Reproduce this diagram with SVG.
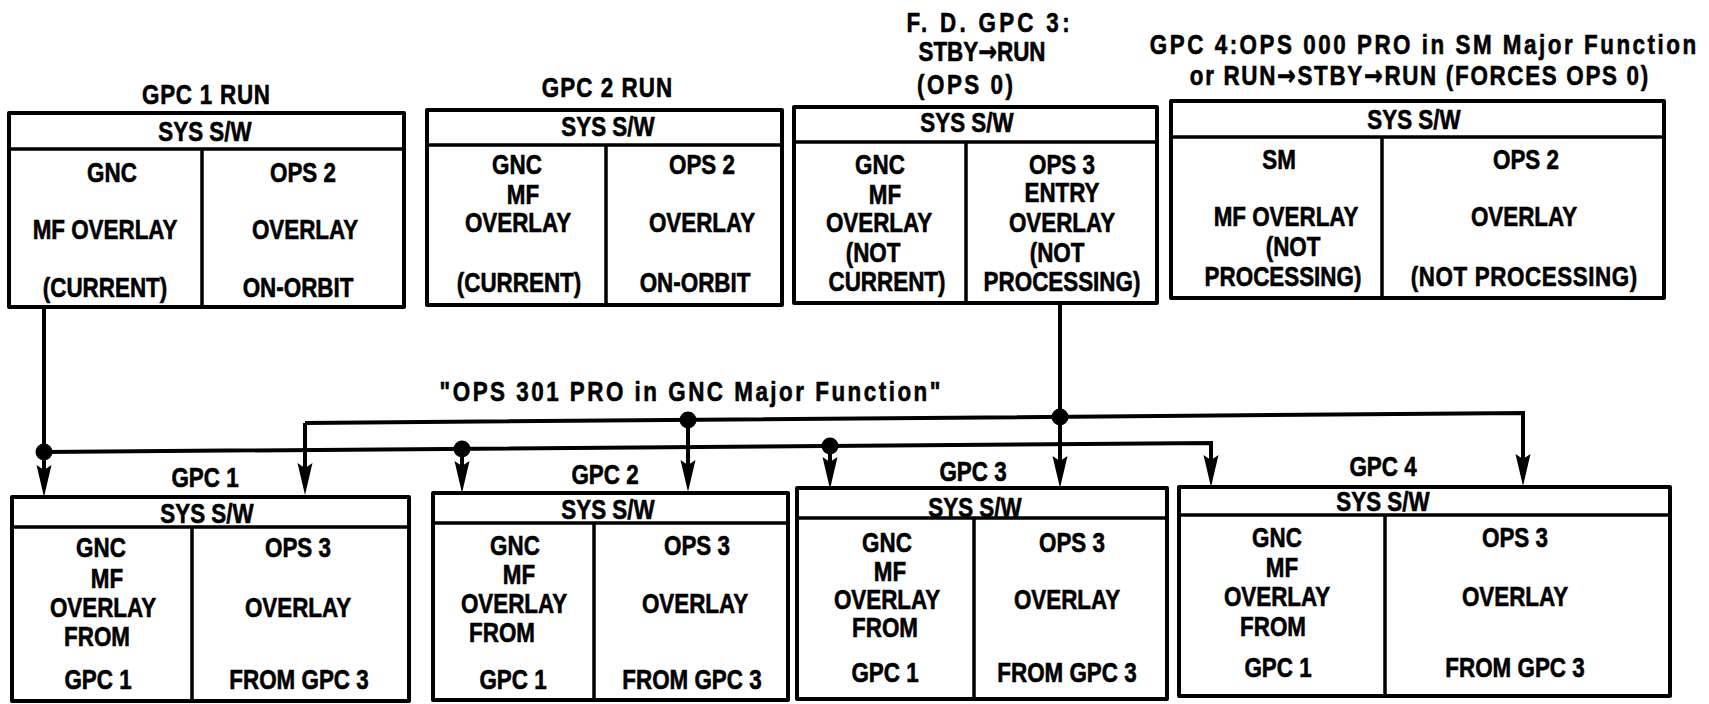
<svg xmlns="http://www.w3.org/2000/svg" width="1709" height="704" viewBox="0 0 1709 704">
<style>
.box{fill:#fff;stroke:#000;stroke-width:4;stroke-linejoin:round}
.ln{stroke:#000;stroke-width:3.5;fill:none}
.t{font-family:"Liberation Sans",Arial,sans-serif;font-weight:bold;font-size:28px;text-anchor:middle;fill:#000;stroke:#000;stroke-width:0.6px;transform:scaleX(0.8);transform-box:fill-box;transform-origin:center}
.ar{font-family:"DejaVu Sans",sans-serif;font-weight:bold}
.c{stroke:#000;stroke-width:4;fill:none}
.dot{fill:#000}
</style>
<defs>
<marker id="arr" viewBox="0 0 32 16" refX="24" refY="8" markerWidth="32" markerHeight="16" markerUnits="userSpaceOnUse" orient="auto">
<path d="M0,0.5 L32,8 L0,15.5 L5,8 Z" fill="#000"/>
</marker>
</defs>
<rect x="0" y="0" width="1709" height="704" fill="#fff"/>

<g id="top-gpc1">
<text class="t" x="206" y="104" textLength="160" lengthAdjust="spacing">GPC 1 RUN</text>
<rect class="box" x="9" y="113" width="395" height="194"/>
<path class="ln" d="M9,149 H404 M202,149 V307"/>
<text class="t" x="205" y="141">SYS S/W</text>
<text class="t" x="112" y="182">GNC</text>
<text class="t" x="105" y="239">MF OVERLAY</text>
<text class="t" x="105" y="297">(CURRENT)</text>
<text class="t" x="303" y="182">OPS 2</text>
<text class="t" x="305" y="239">OVERLAY</text>
<text class="t" x="298" y="297">ON-ORBIT</text>
</g>

<g id="top-gpc2">
<text class="t" x="607" y="97" textLength="163" lengthAdjust="spacing">GPC 2 RUN</text>
<rect class="box" x="427" y="110" width="355" height="195"/>
<path class="ln" d="M427,145 H782 M606,145 V305"/>
<text class="t" x="608" y="136">SYS S/W</text>
<text class="t" x="517" y="174">GNC</text>
<text class="t" x="523" y="204">MF</text>
<text class="t" x="518" y="232">OVERLAY</text>
<text class="t" x="519" y="292">(CURRENT)</text>
<text class="t" x="702" y="174">OPS 2</text>
<text class="t" x="702" y="232">OVERLAY</text>
<text class="t" x="695" y="292">ON-ORBIT</text>
</g>

<g id="top-gpc3">
<text class="t" x="988" y="32" textLength="204" lengthAdjust="spacing">F. D. GPC 3:</text>
<text class="t" x="982" y="61">STBY<tspan class="ar">→</tspan>RUN</text>
<text class="t" x="965" y="94" textLength="120" lengthAdjust="spacing">(OPS 0)</text>
<rect class="box" x="794" y="107" width="363" height="196"/>
<path class="ln" d="M794,142 H1157 M966,142 V303"/>
<text class="t" x="967" y="132">SYS S/W</text>
<text class="t" x="880" y="174">GNC</text>
<text class="t" x="885" y="204">MF</text>
<text class="t" x="879" y="232">OVERLAY</text>
<text class="t" x="873" y="262">(NOT</text>
<text class="t" x="887" y="291">CURRENT)</text>
<text class="t" x="1062" y="174">OPS 3</text>
<text class="t" x="1062" y="202">ENTRY</text>
<text class="t" x="1062" y="232">OVERLAY</text>
<text class="t" x="1057" y="262">(NOT</text>
<text class="t" x="1062" y="291">PROCESSING)</text>
</g>

<g id="top-gpc4">
<text class="t" x="1423" y="54" textLength="683" lengthAdjust="spacing">GPC 4:OPS 000 PRO in SM Major Function</text>
<text class="t" x="1419" y="85" textLength="573" lengthAdjust="spacing">or RUN<tspan class="ar">→</tspan>STBY<tspan class="ar">→</tspan>RUN (FORCES OPS 0)</text>
<rect class="box" x="1171" y="101" width="493" height="197"/>
<path class="ln" d="M1171,137 H1664 M1382,137 V298"/>
<text class="t" x="1414" y="129">SYS S/W</text>
<text class="t" x="1279" y="169">SM</text>
<text class="t" x="1286" y="226">MF OVERLAY</text>
<text class="t" x="1293" y="256">(NOT</text>
<text class="t" x="1283" y="286">PROCESSING)</text>
<text class="t" x="1526" y="169">OPS 2</text>
<text class="t" x="1524" y="226">OVERLAY</text>
<text class="t" x="1524" y="286" textLength="283" lengthAdjust="spacing">(NOT PROCESSING)</text>
</g>

<g id="bot-gpc1">
<text class="t" x="205" y="487">GPC 1</text>
<rect class="box" x="12" y="497" width="397" height="204"/>
<path class="ln" d="M12,527 H409 M192,527 V701"/>
<text class="t" x="207" y="523">SYS S/W</text>
<text class="t" x="101" y="557">GNC</text>
<text class="t" x="107" y="588">MF</text>
<text class="t" x="103" y="617">OVERLAY</text>
<text class="t" x="97" y="646">FROM</text>
<text class="t" x="98" y="689">GPC 1</text>
<text class="t" x="298" y="557">OPS 3</text>
<text class="t" x="298" y="617">OVERLAY</text>
<text class="t" x="299" y="689">FROM GPC 3</text>
</g>

<g id="bot-gpc2">
<text class="t" x="605" y="484">GPC 2</text>
<rect class="box" x="433" y="493" width="355" height="207"/>
<path class="ln" d="M433,523 H788 M594,523 V700"/>
<text class="t" x="608" y="519">SYS S/W</text>
<text class="t" x="515" y="555">GNC</text>
<text class="t" x="519" y="584">MF</text>
<text class="t" x="514" y="613">OVERLAY</text>
<text class="t" x="502" y="642">FROM</text>
<text class="t" x="513" y="689">GPC 1</text>
<text class="t" x="697" y="555">OPS 3</text>
<text class="t" x="695" y="613">OVERLAY</text>
<text class="t" x="692" y="689">FROM GPC 3</text>
</g>

<g id="bot-gpc3">
<text class="t" x="973" y="481">GPC 3</text>
<rect class="box" x="797" y="488" width="370" height="211"/>
<path class="ln" d="M797,518 H1167 M974,518 V699"/>
<text class="t" x="975" y="517">SYS S/W</text>
<text class="t" x="887" y="552">GNC</text>
<text class="t" x="890" y="581">MF</text>
<text class="t" x="887" y="609">OVERLAY</text>
<text class="t" x="885" y="637">FROM</text>
<text class="t" x="885" y="682">GPC 1</text>
<text class="t" x="1072" y="552">OPS 3</text>
<text class="t" x="1067" y="609">OVERLAY</text>
<text class="t" x="1067" y="682">FROM GPC 3</text>
</g>

<g id="bot-gpc4">
<text class="t" x="1383" y="476">GPC 4</text>
<rect class="box" x="1179" y="487" width="491" height="209"/>
<path class="ln" d="M1179,515 H1670 M1385,515 V696"/>
<text class="t" x="1383" y="511">SYS S/W</text>
<text class="t" x="1277" y="547">GNC</text>
<text class="t" x="1282" y="577">MF</text>
<text class="t" x="1277" y="606">OVERLAY</text>
<text class="t" x="1273" y="636">FROM</text>
<text class="t" x="1278" y="677">GPC 1</text>
<text class="t" x="1515" y="547">OPS 3</text>
<text class="t" x="1515" y="606">OVERLAY</text>
<text class="t" x="1515" y="677">FROM GPC 3</text>
</g>

<g id="connectors">
<text class="t" x="690" y="401" textLength="626" lengthAdjust="spacing">"OPS 301 PRO in GNC Major Function"</text>
<path class="c" d="M44,307 V489" marker-end="url(#arr)"/>
<path class="c" d="M44,452 L1211,443 V479" marker-end="url(#arr)"/>
<path class="c" d="M462,449 V485" marker-end="url(#arr)"/>
<path class="c" d="M830,446 V481" marker-end="url(#arr)"/>
<path class="c" d="M1060,303 V480" marker-end="url(#arr)"/>
<path class="c" d="M305,423 L1523,413 V478" marker-end="url(#arr)"/>
<path class="c" d="M305,423 V487" marker-end="url(#arr)"/>
<path class="c" d="M688,420 V484" marker-end="url(#arr)"/>
<circle class="dot" cx="44" cy="452" r="8.5"/>
<circle class="dot" cx="462" cy="449" r="8.5"/>
<circle class="dot" cx="830" cy="446" r="8.5"/>
<circle class="dot" cx="1060" cy="417" r="8.5"/>
<circle class="dot" cx="688" cy="420" r="8.5"/>
</g>
</svg>
